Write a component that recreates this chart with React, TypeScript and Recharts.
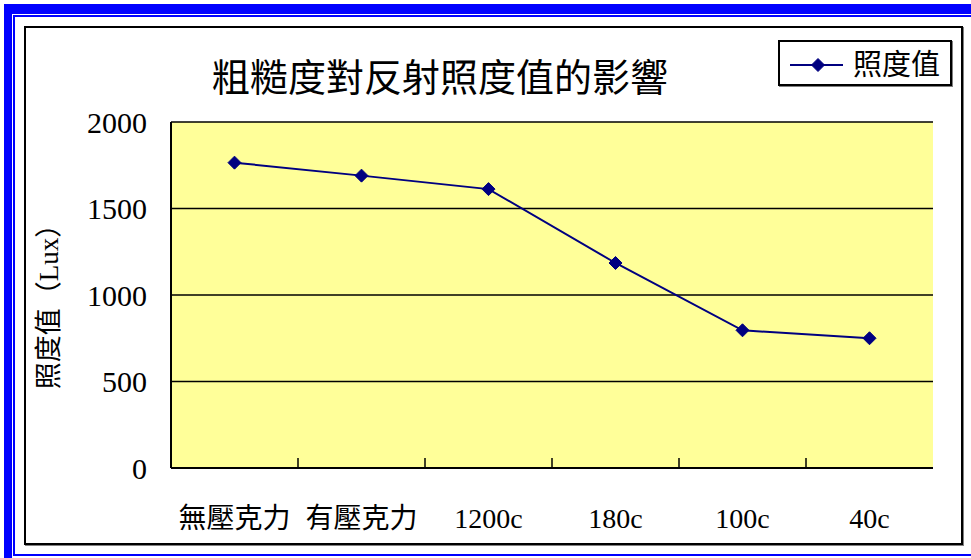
import React from 'react';
import { LineChart, Line, XAxis, YAxis, CartesianGrid, Label } from 'recharts';

const title = '粗糙度對反射照度值的影響';
const seriesName = '照度值';
const yAxisTitle = '照度值（Lux）';
const categories = ['無壓克力', '有壓克力', '1200c', '180c', '100c', '40c'];
const values = [1765, 1690, 1612, 1185, 796, 750];
const yTicks = [0, 500, 1000, 1500, 2000];

const data = categories.map((c, i) => ({ name: c, value: values[i] }));

const FONT = '"Liberation Serif", "Noto Sans CJK TC", serif';
const NAVY = '#000080';
const BLUE = '#0000FF';

const Diamond = (props: any) => {
  const { cx, cy } = props;
  if (cx == null || cy == null) return null;
  const r = 6.5;
  return (
    <polygon
      points={`${cx},${cy - r} ${cx + r},${cy} ${cx},${cy + r} ${cx - r},${cy}`}
      fill={NAVY}
      stroke={NAVY}
      strokeWidth={1}
    />
  );
};

const XTick = (props: any) => {
  const { x, y, payload, index, visibleTicksCount, width } = props;
  let half = payload && payload.offset ? payload.offset : 0;
  if (!half && width && visibleTicksCount) half = width / visibleTicksCount / 2;
  const count = visibleTicksCount || categories.length;
  return (
    <g>
      {index < count - 1 && half > 0 ? (
        <line x1={x + half} x2={x + half} y1={y} y2={y - 10} stroke="#000" strokeWidth={1.5} />
      ) : null}
      <text
        x={x}
        y={y + 50}
        textAnchor="middle"
        dominantBaseline="central"
        fontFamily={FONT}
        fontSize={28}
        fill="#000"
      >
        {payload.value}
      </text>
    </g>
  );
};

const YLabel = (props: any) => {
  const vb = props.viewBox || {};
  const cx = (vb.x ?? 71) - 22;
  const cy = (vb.y ?? 122) + (vb.height ?? 346) / 2 + 5;
  return (
    <text
      x={cx}
      y={cy}
      transform={`rotate(-90, ${cx}, ${cy})`}
      textAnchor="middle"
      dominantBaseline="central"
      fontFamily={FONT}
      fontSize={27}
      fill="#000"
    >
      {yAxisTitle}
    </text>
  );
};

export default function App() {
  return (
    <div style={{ position: 'absolute', left: 0, top: 0, width: 971, height: 558, overflow: 'hidden', background: '#fff' }}>
      {/* double blue frame */}
      <div style={{ position: 'absolute', left: 4, top: 4, width: 1100, height: 1100, background: BLUE }} />
      <div style={{ position: 'absolute', left: 12, top: 14, width: 1100, height: 1100, background: '#fff' }} />
      <div
        style={{
          position: 'absolute',
          left: 13,
          top: 15,
          width: 1100,
          height: 541,
          border: `2px solid ${BLUE}`,
          boxSizing: 'border-box',
          background: '#fff',
        }}
      />
      {/* black chart frame */}
      <div
        style={{
          position: 'absolute',
          left: 24,
          top: 26,
          width: 939,
          height: 519,
          border: '2px solid #000',
          boxSizing: 'border-box',
          boxShadow: '1px 1px 0 #808080',
          background: '#fff',
        }}
      />
      {/* title */}
      <div
        style={{
          position: 'absolute',
          left: 140,
          width: 600,
          top: 56,
          height: 44,
          lineHeight: '44px',
          textAlign: 'center',
          fontFamily: FONT,
          fontSize: 38,
          color: '#000',
          whiteSpace: 'nowrap',
        }}
      >
        {title}
      </div>
      {/* legend */}
      <div
        style={{
          position: 'absolute',
          left: 778,
          top: 40,
          width: 174,
          height: 46,
          border: '2px solid #000',
          boxSizing: 'border-box',
          boxShadow: '1px 1px 0 #808080',
          background: '#fff',
        }}
      >
        <svg width={170} height={42} style={{ position: 'absolute', left: 0, top: 0 }}>
          <line x1={10} x2={63} y1={23} y2={23} stroke={NAVY} strokeWidth={2} />
          <Diamond cx={38} cy={23} />
          <text x={73} y={23} dominantBaseline="central" fontFamily={FONT} fontSize={29} fill="#000">
            {seriesName}
          </text>
        </svg>
      </div>
      <div style={{ position: 'absolute', left: 0, top: 0 }}>
        <LineChart width={971} height={558} data={data} margin={{ top: 122, right: 38, bottom: 30, left: 71 }}>
          <CartesianGrid
            yAxisId="left"
            vertical={false}
            stroke="#000"
            strokeWidth={1.5}
            fill="#FFFF99"
            fillOpacity={1}
          />
          <XAxis
            dataKey="name"
            scale="band"
            height={60}
            interval={0}
            tickLine={false}
            tickSize={0}
            tickMargin={0}
            axisLine={{ stroke: '#000', strokeWidth: 2 }}
            tick={<XTick />}
          />
          <YAxis
            yAxisId="left"
            width={100}
            domain={[0, 2000]}
            ticks={yTicks}
            interval={0}
            tickLine={false}
            tickSize={0}
            tickMargin={24}
            axisLine={{ stroke: '#000', strokeWidth: 2 }}
            tick={{ fontFamily: FONT, fontSize: 30, fill: '#000' }}
          >
            <Label content={<YLabel />} />
          </YAxis>
          <YAxis
            yAxisId="right"
            orientation="right"
            width={0}
            domain={[0, 2000]}
            ticks={yTicks}
            tick={false}
            tickLine={false}
            axisLine={{ stroke: '#808080', strokeWidth: 1.5 }}
          />
          <Line
            yAxisId="left"
            type="linear"
            dataKey="value"
            stroke={NAVY}
            strokeWidth={2}
            dot={<Diamond />}
            activeDot={false}
            isAnimationActive={false}
          />
        </LineChart>
      </div>
    </div>
  );
}
